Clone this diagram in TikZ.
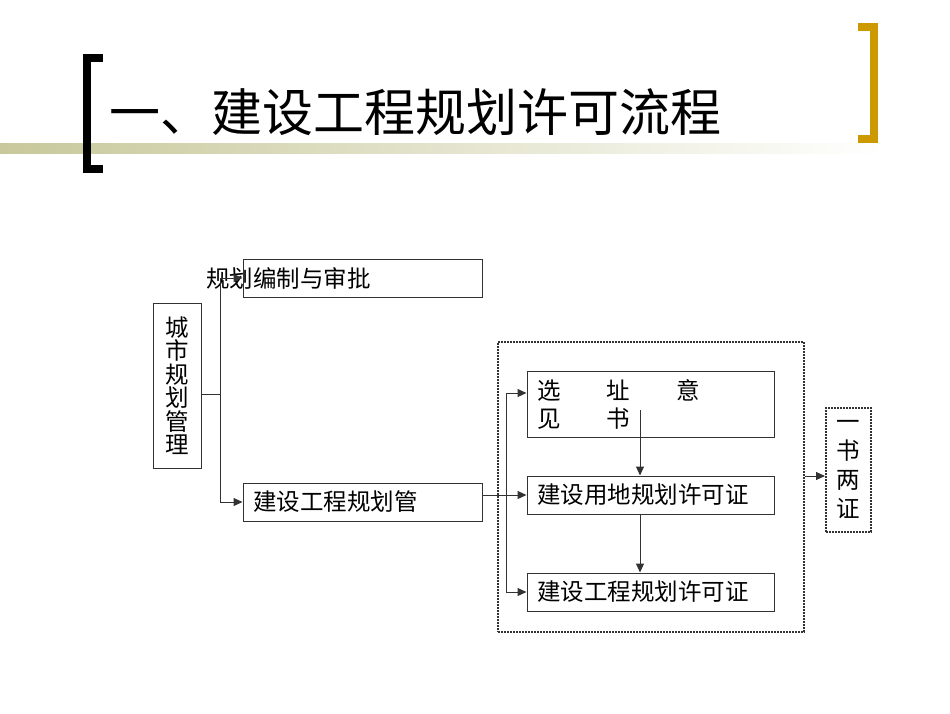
\documentclass[tikz,border=0pt]{standalone}
\usepackage{fontspec}
\setmainfont{Noto Sans CJK SC}
\usepackage{xcolor}
\usetikzlibrary{arrows.meta,positioning,calc}
\definecolor{bracketgold}{RGB}{204,153,0}
\definecolor{barolive}{RGB}{200,200,155}
\definecolor{linegray}{RGB}{50,50,50}

\begin{document}
\begin{tikzpicture}[x=1pt, y=-1pt,
    box/.style={draw=linegray, line width=1pt, minimum height=38pt, inner sep=0pt},
    txt/.style={font=\fontsize{23.5}{25}\selectfont},
    arr/.style={-{Triangle[length=9pt,width=8pt]}, draw=linegray, line width=1pt},
    dotbox/.style={draw=linegray, densely dotted, line width=2pt}]
    \useasboundingbox[fill=white] (0,0) rectangle (950,713);

    % Title
    \shade[left color=barolive, right color=white] (0,143) rectangle (885,153);
    \draw[line width=8pt] (103,58) -- (87,58) -- (87,169) -- (103,169);
    \draw[bracketgold, line width=8pt] (858,27) -- (874,27) -- (874,139) -- (858,139);
    \node[anchor=west, inner sep=0pt, font=\fontsize{51}{55}\selectfont] (title) at (109,112) {一、建设工程规划许可流程};

    % Blocks
    \node[box, txt, minimum width=48pt, minimum height=165pt, align=center] (gl) at (177,385.5)
        {城\\[-1.5pt]市\\[-1.5pt]规\\[-1.5pt]划\\[-1.5pt]管\\[-1.5pt]理};
    \node[box, minimum width=239pt] (bz) at (362.5,278) {};
    \node[txt, anchor=west, inner sep=0pt] (bzt) at (206,278) {规划编制与审批};
    \node[box, txt, minimum width=239pt, text width=219pt, inner xsep=10pt, align=left] (gc) at (362.5,502) {建设工程规划管};

    \node[dotbox, minimum width=306pt, minimum height=290pt] (sx) at (651,487) {};
    \node[box, txt, minimum width=247pt, minimum height=66pt, text width=227pt, inner xsep=10pt, align=left] (xz) at (650.5,404)
        {选\hspace{46.5pt}址\hspace{46.5pt}意\\[3pt]见\hspace{46.5pt}书};
    \node[box, txt, minimum width=247pt, text width=227pt, inner xsep=10pt, align=left] (yd) at (650.5,495) {建设用地规划许可证};
    \node[box, txt, minimum width=247pt, text width=227pt, inner xsep=10pt, align=left] (gx) at (650.5,592) {建设工程规划许可证};

    \node[dotbox, txt, minimum width=45pt, minimum height=124pt, align=center, inner sep=0pt] (ys) at (848.5,470)
        {一\\[4pt]书\\[4pt]两\\[4pt]证};

    % Arrows
    \coordinate (split) at (220,394);
    \draw[draw=linegray, line width=1pt] (gl.east |- split) -- (split);
    \draw[arr] (split) |- (bz.west);
    \draw[arr] (split) |- (gc.west);

    \coordinate (fork) at (506,495);
    \draw[arr] (gc.east |- fork) -- (yd.west |- fork);
    \draw[arr] (fork) |- (xz.west |- 0,393);
    \draw[arr] (fork) |- (gx.west);

    \coordinate (xzin) at (640,410);
    \draw[arr] (xzin) -- (xzin |- yd.north);
    \draw[arr] (xzin |- yd.south) -- (xzin |- gx.north);
    \draw[arr] (sx.east |- 0,476) -- (ys.west |- 0,476);
\end{tikzpicture}
\end{document}
